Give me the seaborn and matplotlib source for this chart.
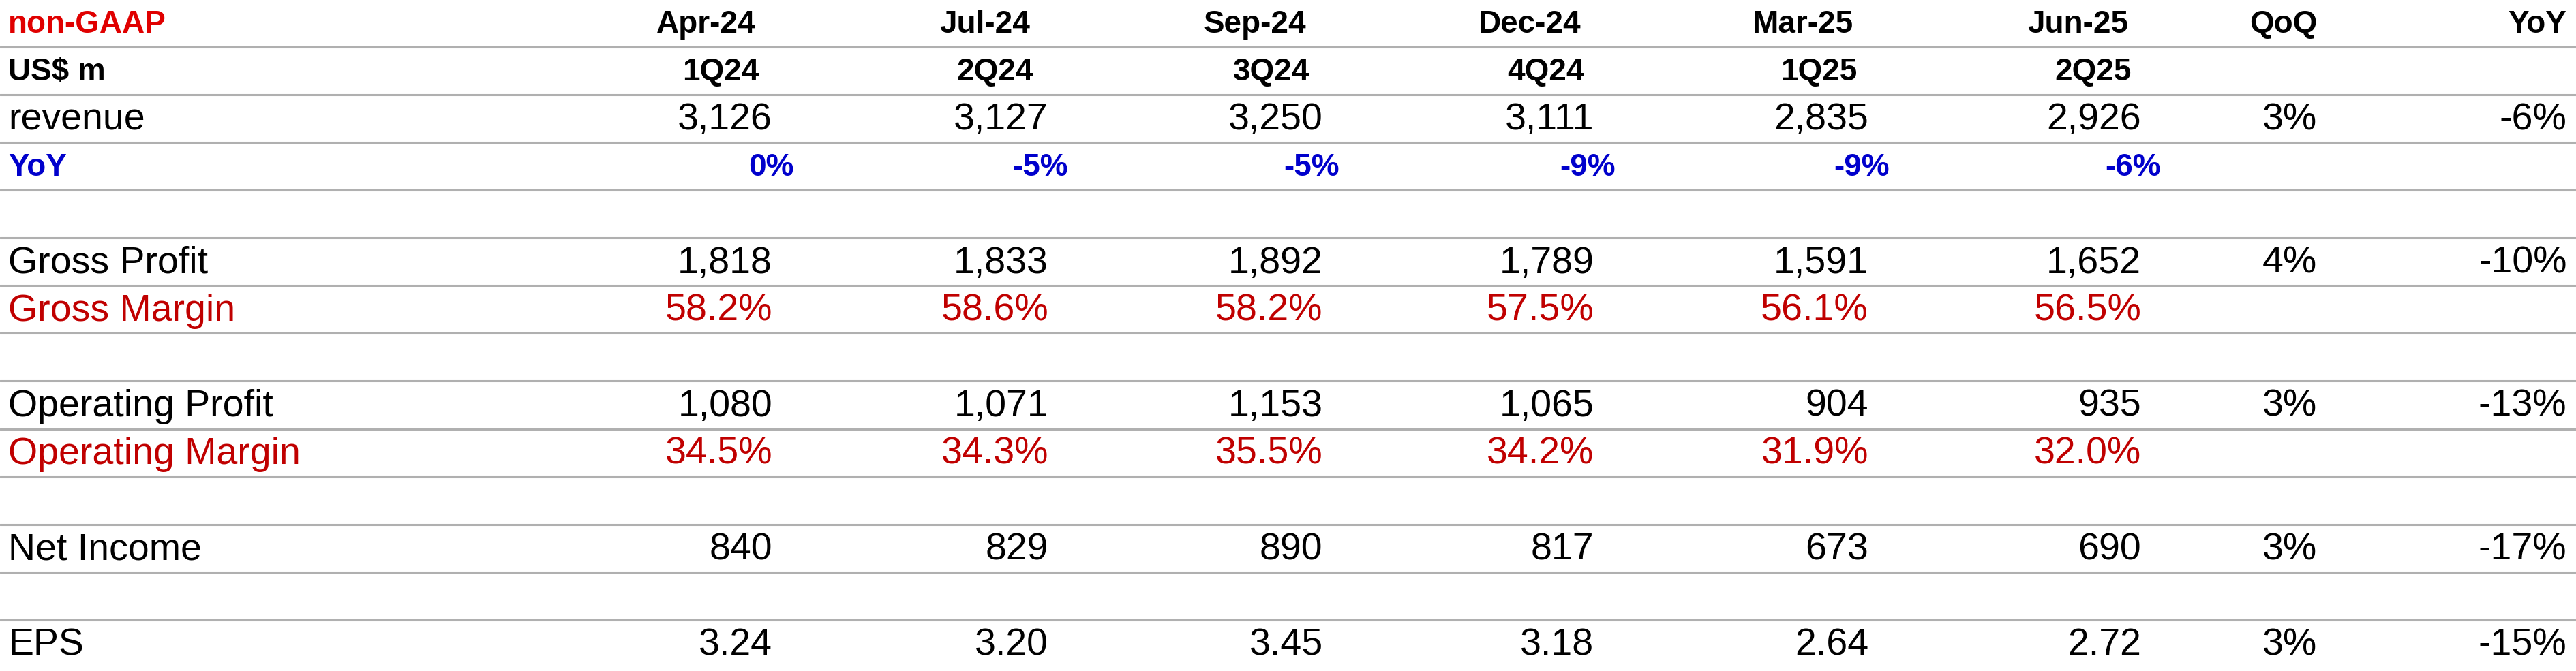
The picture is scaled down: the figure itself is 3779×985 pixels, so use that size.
import matplotlib
matplotlib.use("Agg")
import matplotlib.pyplot as plt
import seaborn as sns

sns.set_theme(style="white")
plt.rcParams['font.family'] = ['Liberation Sans', 'DejaVu Sans']

months = ["Apr-24", "Jul-24", "Sep-24", "Dec-24", "Mar-25", "Jun-25"]
quarters = ["1Q24", "2Q24", "3Q24", "4Q24", "1Q25", "2Q25"]
revenue = ["3,126", "3,127", "3,250", "3,111", "2,835", "2,926"]
rev_yoy = ["0%", "-5%", "-5%", "-9%", "-9%", "-6%"]
gross_profit = ["1,818", "1,833", "1,892", "1,789", "1,591", "1,652"]
gross_margin = ["58.2%", "58.6%", "58.2%", "57.5%", "56.1%", "56.5%"]
op_profit = ["1,080", "1,071", "1,153", "1,065", "904", "935"]
op_margin = ["34.5%", "34.3%", "35.5%", "34.2%", "31.9%", "32.0%"]
net_income = ["840", "829", "890", "817", "673", "690"]
eps = ["3.24", "3.20", "3.45", "3.18", "2.64", "2.72"]
qoq = {"revenue": "3%", "Gross Profit": "4%", "Operating Profit": "3%", "Net Income": "3%", "EPS": "3%"}
yoy = {"revenue": "-6%", "Gross Profit": "-10%", "Operating Profit": "-13%", "Net Income": "-17%", "EPS": "-15%"}

W, H = 1568, 409
fig = plt.figure(figsize=(37.8, 9.85), dpi=100)
ax = fig.add_axes([0, 0, 1, 1])
ax.set_xlim(0, W)
ax.set_ylim(H, 0)
ax.axis("off")

fs_bold, fs_reg = 33, 40
RED, BLUE, DRED = "#e00000", "#0000cc", "#c00000"
head_x = [460, 627, 795, 962, 1128, 1295]
data_x = [470, 638, 805, 970, 1137, 1303]
yoy_x = [483, 650, 815, 983, 1150, 1315]
qx, yx = 1410, 1562
rh = 29.1
def ry(i): return 15 + i * rh

def t(x, y, s, ha="right", color="black", bold=False):
    ax.text(x, y, s, ha=ha, va="center", fontsize=fs_bold if bold else fs_reg,
            color=color, fontweight="bold" if bold else "normal")

t(5, ry(0), "non-GAAP", ha="left", color=RED, bold=True)
for x, m in zip(head_x, months): t(x, ry(0), m, bold=True)
t(qx, ry(0), "QoQ", bold=True); t(yx, ry(0), "YoY", bold=True)
t(5, ry(1), "US$ m", ha="left", bold=True)
for x, q in zip(head_x, quarters): t(x + 2, ry(1), q, bold=True)

rows = [(2, "revenue", revenue, "black"), (5, "Gross Profit", gross_profit, "black"),
        (6, "Gross Margin", gross_margin, DRED), (8, "Operating Profit", op_profit, "black"),
        (9, "Operating Margin", op_margin, DRED), (11, "Net Income", net_income, "black"),
        (13, "EPS", eps, "black")]
for i, lab, vals, c in rows:
    t(5, ry(i), lab, ha="left", color=c)
    for x, v in zip(data_x, vals): t(x, ry(i), v, color=c)
    if lab in qoq:
        t(qx, ry(i), qoq[lab]); t(yx, ry(i), yoy[lab])
t(5, ry(3), "YoY", ha="left", color=BLUE, bold=True)
for x, v in zip(yoy_x, rev_yoy): t(x, ry(3), v, color=BLUE, bold=True)

for k in range(1, 14):
    ax.axhline(k * rh - 0.5, color="#b0b0b0", lw=2.2)

fig.savefig("out.png", dpi=100)
